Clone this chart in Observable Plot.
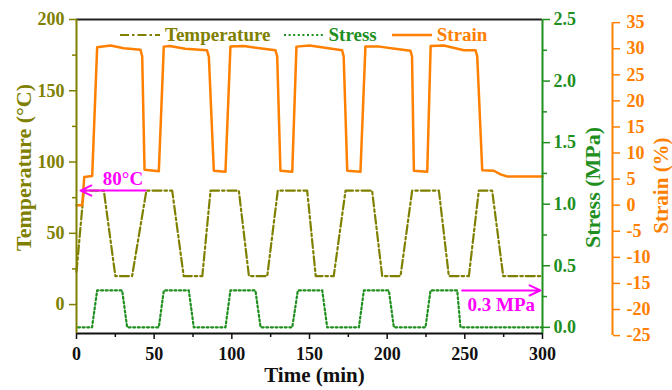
<!DOCTYPE html>
<html><head><meta charset="utf-8">
<script src="https://cdn.jsdelivr.net/npm/d3@7"></script>
<script src="https://cdn.jsdelivr.net/npm/@observablehq/plot@0.6"></script>
<style>
body{margin:0;background:#fff;}
#wrap{position:relative;width:672px;height:390px;font-family:"Liberation Serif","Times New Roman",serif;font-weight:bold;}
#legend{position:absolute;top:25px;left:120px;display:flex;align-items:center;font-size:19px;line-height:20px;white-space:nowrap;}
#legend svg{display:block;}
#legend span{display:block;}
</style></head><body>
<div id="wrap"><div id="chart"></div><div id="legend"></div></div>
<script>
const OLIVE = "#808000", GREEN = "#1f8f1f", ORANGE = "#ff8000", MAGENTA = "#ff00ff";

// Temperature (°C) vs time (min)
const tempTime  = [0, 4.7, 17.6, 25, 35.8, 45, 61.6, 69, 81, 86.3, 104.5, 111, 122.8, 129.6, 148.5, 154, 165.6, 173.2, 190.3, 196.8, 208.6, 216.1, 233.3, 239.7, 252.6, 259, 267.6, 274.7, 300];
const tempValue = [23, 80, 80, 20, 20, 80, 80, 20, 20, 80, 80, 20, 20, 80, 80, 20, 20, 80, 80, 20, 20, 80, 80, 20, 20, 80, 80, 20, 20];

// Stress (MPa) vs time (min)
const stressTime  = [1, 10, 13.3, 29.4, 32.6, 53, 56.2, 72.3, 75.5, 95.9, 99.1, 115.2, 118.5, 138.9, 142.5, 158.2, 161.4, 181.8, 185, 201.1, 204.3, 224.7, 227.9, 245.1, 247.2, 300];
const stressValue = [0, 0, 0.3, 0.3, 0, 0, 0.3, 0.3, 0, 0, 0.3, 0.3, 0, 0, 0.3, 0.3, 0, 0, 0.3, 0.3, 0, 0, 0.3, 0.3, 0, 0];

// Strain (%) vs time (min)
const strainTime  = [0, 3.7, 5, 10.1, 13.3, 21.9, 30.5, 41.2, 42.3, 43.8, 53, 56.2, 60, 70, 84, 85.2, 88.4, 95.9, 99.1, 107.7, 118, 128.1, 129.2, 131.3, 138.9, 141.6, 150, 160, 171, 172, 174.3, 182.8, 186, 195, 205, 215, 216, 217.2, 225.8, 228, 236.5, 249.4, 256.9, 258, 261.2, 268.7, 273, 277.3, 300];
const strainValue = [0, 0, 5.4, 5.6, 30.3, 30.6, 30.1, 29.8, 28.5, 6.8, 6.5, 30.4, 30.5, 30.0, 29.7, 28.5, 6.6, 6.4, 30.4, 30.5, 30.1, 29.7, 28.5, 6.6, 6.4, 30.4, 30.6, 30.2, 29.7, 28.5, 6.6, 6.4, 30.4, 30.4, 30.0, 29.6, 28.5, 6.6, 6.4, 30.5, 30.6, 29.7, 29.7, 28.5, 6.7, 6.6, 5.9, 5.5, 5.5];

// Axis ticks
const timeTicks = [0, 50, 100, 150, 200, 250, 300];
const timeMinor = [25, 75, 125, 175, 225, 275];
const tempTicks = [0, 50, 100, 150, 200];
const tempMinor = [25, 75, 125, 175];
const stressTicks = [0, 0.5, 1.0, 1.5, 2.0, 2.5];
const stressMinor = [0.25, 0.75, 1.25, 1.75, 2.25];
const strainTicks = [-25, -20, -15, -10, -5, 0, 5, 10, 15, 20, 25, 30, 35];

// Annotations
const annoText = ["80°C", "0.3 MPa"];
const annoFrom = [44.4, 248.3];
const annoTo = [2.6, 298.7];
const annoLevel = [80, 0.3]; // temperature, stress

// Scale domains
const TEMP_DOMAIN = [-20.3, 200];
const STRESS_DOMAIN = [-0.05, 2.5];
const STRAIN_DOMAIN = [-24.6, 35.6];
const sToY = d3.scaleLinear().domain(STRESS_DOMAIN).range(TEMP_DOMAIN);
const eToY = d3.scaleLinear().domain(STRAIN_DOMAIN).range(TEMP_DOMAIN);

const tempData = tempTime.map((t, i) => ({t, y: tempValue[i]}));
const stressData = stressTime.map((t, i) => ({t, y: sToY(stressValue[i])}));
const strainData = strainTime.map((t, i) => ({t, y: eToY(strainValue[i])}));

const stressMajorY = stressTicks.map(sToY);
const stressLabel = new Map(stressMajorY.map((y, i) => [y, d3.format(".1f")(stressTicks[i])]));
const strainY = strainTicks.map(eToY);
const strainLabel = new Map(strainY.map((y, i) => [y, String(strainTicks[i])]));

const arrowData = [
  {x1: annoFrom[0], x2: annoTo[0], y: annoLevel[0], label: annoText[0]},
  {x1: annoFrom[1], x2: annoTo[1], y: sToY(annoLevel[1]), label: annoText[1]}
];

const FS = 18;
const titleOpts = {textAnchor: "middle", lineAnchor: "middle", fontSize: 22};
const chart = Plot.plot({
  width: 672, height: 390,
  marginLeft: 76, marginRight: 130, marginTop: 19, marginBottom: 57,
  style: {fontFamily: '"Liberation Serif","Times New Roman",serif', fontWeight: "bold", fontSize: "18px", background: "#fff"},
  x: {domain: [0, 300]},
  y: {domain: TEMP_DOMAIN},
  marks: [
    // data lines
    Plot.line(tempData, {x: "t", y: "y", stroke: OLIVE, strokeWidth: 2.2, strokeDasharray: "9,3,2.5,3"}),
    Plot.line(stressData, {x: "t", y: "y", stroke: GREEN, strokeWidth: 2.2, strokeDasharray: "2,2.6"}),
    Plot.line(strainData, {x: "t", y: "y", stroke: ORANGE, strokeWidth: 2.5}),
    // frame lines
    Plot.ruleY([TEMP_DOMAIN[1]], {stroke: "#222", strokeWidth: 2}),
    Plot.ruleY([TEMP_DOMAIN[0]], {stroke: "#111", strokeWidth: 2}),
    Plot.ruleX([0], {stroke: OLIVE, strokeWidth: 2}),
    Plot.ruleX([300], {stroke: GREEN, strokeWidth: 2}),
    Plot.ruleX([300], {y1: () => eToY(strainTicks[0]), y2: () => eToY(strainTicks[strainTicks.length - 1]), stroke: ORANGE, strokeWidth: 2, dx: 70}),
    // x axis
    Plot.axisX(timeTicks, {anchor: "bottom", tickSize: 6, tickPadding: 8, strokeWidth: 1.5, color: "#111", fontSize: FS, label: null}),
    Plot.axisX(timeMinor, {anchor: "bottom", tickSize: 4, strokeWidth: 1.5, stroke: "#111", fill: "none", label: null}),
    // temperature axis
    Plot.axisY(tempTicks, {anchor: "left", tickSize: 7, tickPadding: 5, strokeWidth: 1.5, color: OLIVE, fontSize: FS, label: null}),
    Plot.axisY(tempMinor, {anchor: "left", tickSize: 4, strokeWidth: 1.5, stroke: OLIVE, fill: "none", label: null}),
    // stress axis
    Plot.axisY(stressMajorY, {anchor: "right", tickSize: 7, tickPadding: 4, strokeWidth: 1.5, color: GREEN, fontSize: FS, label: null, tickFormat: d => stressLabel.get(d)}),
    Plot.axisY(stressMinor.map(sToY), {anchor: "right", tickSize: 4, strokeWidth: 1.5, stroke: GREEN, fill: "none", label: null}),
    // strain axis
    Plot.axisY(strainY, {anchor: "right", dx: 70, tickSize: 7, tickPadding: 7, strokeWidth: 1.5, color: ORANGE, fontSize: FS, label: null, tickFormat: d => strainLabel.get(d)}),
    // axis titles
    Plot.text(["Time (min)"], {...titleOpts, frameAnchor: "bottom", dx: 5, dy: 42, fontSize: 21, fill: "#111"}),
    Plot.text(["Temperature (°C)"], {...titleOpts, frameAnchor: "left", rotate: -90, dx: -53, dy: -9, fill: OLIVE}),
    Plot.text(["Stress (MPa)"], {...titleOpts, frameAnchor: "right", rotate: -90, dx: 50, dy: 11, fill: GREEN}),
    Plot.text(["Strain (%)"], {...titleOpts, frameAnchor: "right", rotate: -90, dx: 119, dy: 9, fontSize: 21, fill: ORANGE}),
    // annotations
    Plot.arrow(arrowData, {x1: "x1", x2: "x2", y1: "y", y2: "y", stroke: MAGENTA, strokeWidth: 2, headLength: 9, headAngle: 50}),
    Plot.text(arrowData.slice(0, 1), {x: d => (d.x1 + d.x2) / 2, y: "y", text: "label", dx: 10, dy: -12, fill: MAGENTA, fontSize: 19}),
    Plot.text(arrowData.slice(1), {x: d => (d.x1 + d.x2) / 2, y: "y", text: "label", dx: 0, dy: 15, fill: MAGENTA, fontSize: 19})
  ]
});
document.getElementById("chart").appendChild(chart);

// Legend
const legendItems = [
  {name: "Temperature", color: OLIVE, dash: "9,3,2.5,3", width: 2.2, gapAfter: 13},
  {name: "Stress", color: GREEN, dash: "2,2.6", width: 2.2, gapAfter: 15},
  {name: "Strain", color: ORANGE, dash: null, width: 2.5, gapAfter: 0}
];
const legend = document.getElementById("legend");
legendItems.forEach(item => {
  const ns = "http://www.w3.org/2000/svg";
  const svg = document.createElementNS(ns, "svg");
  svg.setAttribute("width", 40); svg.setAttribute("height", 10);
  const line = document.createElementNS(ns, "line");
  line.setAttribute("x1", 0); line.setAttribute("x2", 40);
  line.setAttribute("y1", 5); line.setAttribute("y2", 5);
  line.setAttribute("stroke", item.color);
  line.setAttribute("stroke-width", item.width);
  if (item.dash) line.setAttribute("stroke-dasharray", item.dash);
  svg.appendChild(line);
  const span = document.createElement("span");
  span.textContent = item.name;
  span.style.color = item.color;
  span.style.marginLeft = "5px";
  span.style.marginRight = item.gapAfter + "px";
  legend.appendChild(svg);
  legend.appendChild(span);
});
</script>
</body></html>
